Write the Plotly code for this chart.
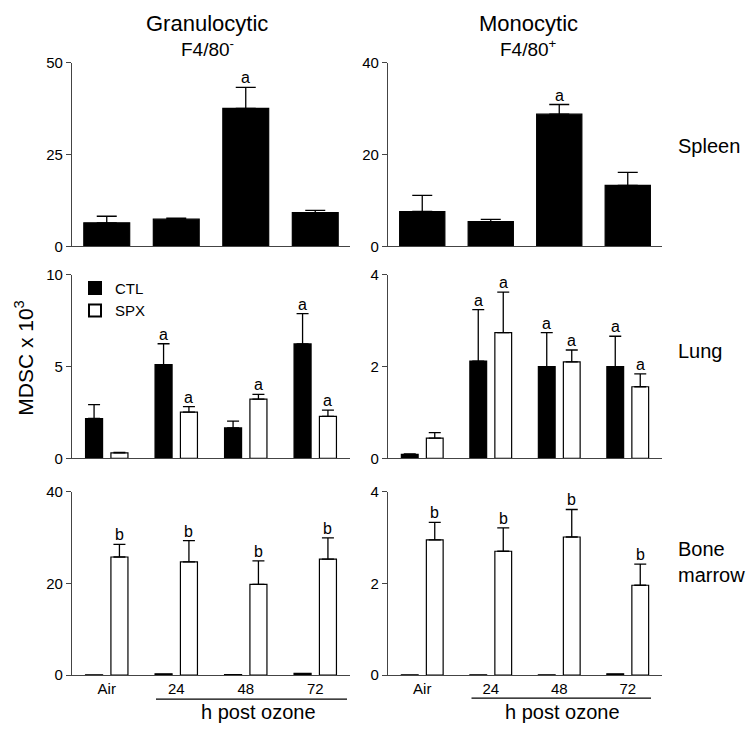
import plotly.graph_objects as go

W, H = 750, 735

categories = ["Air", "24", "48", "72"]

# Spleen (CTL only)
spleen_gran_ctl = [6.4, 7.4, 37.6, 9.2]
spleen_gran_ctl_err = [1.8, 0.3, 5.7, 0.6]
spleen_gran_ctl_sig = ["", "", "a", ""]
spleen_mono_ctl = [7.6, 5.4, 28.8, 13.3]
spleen_mono_ctl_err = [3.5, 0.5, 2.1, 2.8]
spleen_mono_ctl_sig = ["", "", "a", ""]

# Lung
lung_gran_ctl = [2.17, 5.1, 1.66, 6.23]
lung_gran_ctl_err = [0.76, 1.14, 0.37, 1.65]
lung_gran_ctl_sig = ["", "a", "", "a"]
lung_gran_spx = [0.3, 2.52, 3.23, 2.29]
lung_gran_spx_err = [0.03, 0.3, 0.25, 0.34]
lung_gran_spx_sig = ["", "a", "a", "a"]
lung_mono_ctl = [0.085, 2.12, 2.0, 2.0]
lung_mono_ctl_err = [0.01, 1.12, 0.74, 0.66]
lung_mono_ctl_sig = ["", "a", "a", "a"]
lung_mono_spx = [0.44, 2.74, 2.1, 1.56]
lung_mono_spx_err = [0.12, 0.88, 0.26, 0.28]
lung_mono_spx_sig = ["", "a", "a", "a"]

# Bone marrow
bm_gran_ctl = [0.1, 0.3, 0.15, 0.4]
bm_gran_ctl_err = [0, 0, 0, 0]
bm_gran_ctl_sig = ["", "", "", ""]
bm_gran_spx = [25.75, 24.7, 19.8, 25.3]
bm_gran_spx_err = [2.75, 4.6, 5.1, 4.6]
bm_gran_spx_sig = ["b", "b", "b", "b"]
bm_mono_ctl = [0.01, 0.01, 0.01, 0.03]
bm_mono_ctl_err = [0, 0, 0, 0]
bm_mono_ctl_sig = ["", "", "", ""]
bm_mono_spx = [2.95, 2.70, 3.01, 1.96]
bm_mono_spx_err = [0.38, 0.51, 0.60, 0.46]
bm_mono_spx_sig = ["b", "b", "b", "b"]

FONT = "Arial, Liberation Sans, sans-serif"
AXC = "#444444"

fig = go.Figure()
annotations = []

def add_bars(ax, vals, errs, sigs, fill, name, offset, width, capw, showlegend=False):
    xs = "x" if ax == 1 else f"x{ax}"
    ys = "y" if ax == 1 else f"y{ax}"
    fig.add_trace(go.Bar(
        x=categories, y=vals, xaxis=xs, yaxis=ys, name=name,
        offset=offset, width=width,
        marker=dict(color=fill, line=dict(color="black", width=1.2)),
        error_y=dict(type="data", symmetric=False, array=errs,
                     arrayminus=[0] * len(errs), color="black",
                     thickness=1.3, width=capw, visible=any(e > 0 for e in errs)),
        showlegend=showlegend, legendgroup=name,
    ))
    for i, (v, e, s) in enumerate(zip(vals, errs, sigs)):
        if s:
            annotations.append(dict(
                x=i + offset + width / 2, y=v + e, xref=xs, yref=ys,
                text=s, showarrow=False, yanchor="bottom", yshift=-1,
                font=dict(family=FONT, size=16, color="black")))

# top row: single bars
add_bars(1, spleen_gran_ctl, spleen_gran_ctl_err, spleen_gran_ctl_sig, "black", "CTL", -0.33, 0.66, 10)
add_bars(2, spleen_mono_ctl, spleen_mono_ctl_err, spleen_mono_ctl_sig, "black", "CTL", -0.33, 0.66, 10)
# middle row
add_bars(3, lung_gran_ctl, lung_gran_ctl_err, lung_gran_ctl_sig, "black", "CTL", -0.305, 0.245, 6, True)
add_bars(3, lung_gran_spx, lung_gran_spx_err, lung_gran_spx_sig, "white", "SPX", 0.06, 0.245, 6, True)
add_bars(4, lung_mono_ctl, lung_mono_ctl_err, lung_mono_ctl_sig, "black", "CTL", -0.305, 0.245, 6)
add_bars(4, lung_mono_spx, lung_mono_spx_err, lung_mono_spx_sig, "white", "SPX", 0.06, 0.245, 6)
# bottom row
add_bars(5, bm_gran_ctl, bm_gran_ctl_err, bm_gran_ctl_sig, "black", "CTL", -0.305, 0.245, 6)
add_bars(5, bm_gran_spx, bm_gran_spx_err, bm_gran_spx_sig, "white", "SPX", 0.06, 0.245, 6)
add_bars(6, bm_mono_ctl, bm_mono_ctl_err, bm_mono_ctl_sig, "black", "CTL", -0.305, 0.245, 6)
add_bars(6, bm_mono_spx, bm_mono_spx_err, bm_mono_spx_sig, "white", "SPX", 0.06, 0.245, 6)

xdom = {1: [72 / W, 350 / W], 2: [388 / W, 662 / W]}
ydom = {1: [1 - 243 / H, 1 - 55 / H], 2: [1 - 460 / H, 1 - 272 / H], 3: [1 - 682 / H, 1 - 494 / H]}
yranges = {1: [0, 50], 2: [0, 40], 3: [0, 10], 4: [0, 4], 5: [0, 40], 6: [0, 4]}
yticks = {1: [0, 25, 50], 2: [0, 20, 40], 3: [0, 5, 10], 4: [0, 2, 4], 5: [0, 20, 40], 6: [0, 2, 4]}

layout = {}
for ax in range(1, 7):
    row = (ax - 1) // 2 + 1
    col = (ax - 1) % 2 + 1
    xk = "xaxis" if ax == 1 else f"xaxis{ax}"
    yk = "yaxis" if ax == 1 else f"yaxis{ax}"
    layout[xk] = dict(
        domain=xdom[col], anchor="y" if ax == 1 else f"y{ax}",
        type="category", categoryorder="array", categoryarray=categories,
        range=[-0.5, 3.5], showline=True, linecolor=AXC, linewidth=1.3,
        showgrid=False, zeroline=False, ticks="",
        showticklabels=(row == 3),
        tickfont=dict(family=FONT, size=15, color="black"), fixedrange=True)
    layout[yk] = dict(
        domain=ydom[row], anchor="x" if ax == 1 else f"x{ax}",
        range=yranges[ax], tickvals=yticks[ax], showline=True, linecolor=AXC,
        linewidth=1.3, showgrid=False, zeroline=False, ticks="outside",
        ticklen=5, tickwidth=1.3, tickcolor=AXC,
        tickfont=dict(family=FONT, size=15, color="black"), fixedrange=True)

def pa(text, x, y, size, xanchor="center", align="center", angle=0):
    annotations.append(dict(text=text, x=x / W, y=1 - y / H, xref="paper", yref="paper",
                            showarrow=False, xanchor=xanchor, yanchor="middle",
                            align=align, textangle=angle,
                            font=dict(family=FONT, size=size, color="black")))

pa("Granulocytic", 207, 15, 22)
pa("F4/80<sup>-</sup>", 207, 40, 19)
pa("Monocytic", 528, 15, 22)
pa("F4/80<sup>+</sup>", 528, 40, 19)
pa("Spleen", 709, 140, 20)
pa("Lung", 700, 350, 20)
pa("Bone<br>marrow", 711, 566, 20, align="left")
pa("MDSC x 10<sup>3</sup>", 24, 357, 21, angle=-90)
pa("h post ozone", 258, 720, 20)
pa("h post ozone", 562, 720, 20)

shapes = [
    dict(type="line", xref="paper", yref="paper", x0=156 / W, x1=347 / W,
         y0=1 - 706.5 / H, y1=1 - 706.5 / H, line=dict(color="black", width=1.3)),
    dict(type="line", xref="paper", yref="paper", x0=471.5 / W, x1=651 / W,
         y0=1 - 705.5 / H, y1=1 - 705.5 / H, line=dict(color="black", width=1.3)),
]

fig.update_layout(
    width=W, height=H, margin=dict(l=0, r=0, t=0, b=0),
    paper_bgcolor="white", plot_bgcolor="white",
    barmode="overlay",
    font=dict(family=FONT, size=15, color="black"),
    legend=dict(x=75 / W, y=1 - 269 / H, xanchor="left", yanchor="top",
                bgcolor="rgba(0,0,0,0)", font=dict(family=FONT, size=15),
                tracegroupgap=0, itemsizing="constant"),
    annotations=annotations, shapes=shapes, **layout)

fig.write_html("out.html", config={"displayModeBar": False},
               post_script="document.body.style.margin='0';document.body.style.overflow='hidden';")
